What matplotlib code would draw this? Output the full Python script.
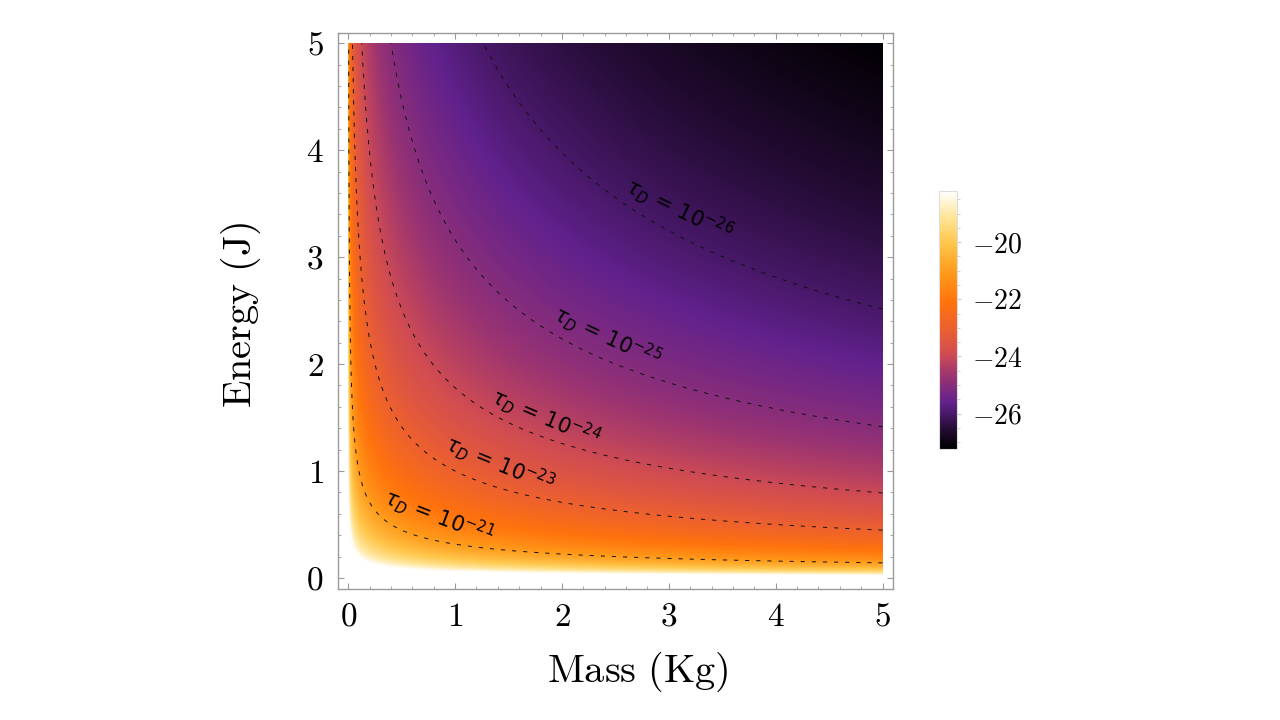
import numpy as np
import matplotlib
matplotlib.use("Agg")
import matplotlib.pyplot as plt
from matplotlib.colors import LinearSegmentedColormap, Normalize
from matplotlib.ticker import MultipleLocator, FixedLocator

# ---------------- data ----------------
mass_range = [0.0, 5.0]          # Kg
energy_range = [0.0, 5.0]        # J
# log10(tau_D) = prefactor - mass_power*log10(m) - energy_power*log10(E)
log10_tau_prefactor = -23.0
mass_power = 2.0
energy_power = 4.0
contour_levels = [-26, -25, -24, -23, -21]
contour_label_xy = [(3.10, 3.45), (2.42, 2.26), (1.85, 1.50), (1.42, 1.07), (0.85, 0.58)]
contour_label_rot = [-26, -25, -23, -22.5, -21]
axis_ticks = [0, 1, 2, 3, 4, 5]
colorbar_ticks = [-26, -24, -22, -20]
color_range = [-27.25, -18.2]

# ---------------- style ----------------
plt.rcParams["mathtext.fontset"] = "cm"
plt.rcParams["font.family"] = ["serif"]
plt.rcParams["font.serif"] = ["cmr10", "DejaVu Serif"]
plt.rcParams["axes.formatter.use_mathtext"] = True
plt.rcParams["lines.scale_dashes"] = False

sunset = LinearSegmentedColormap.from_list(
    "sunset",
    [
        (0.00, (0.00, 0.00, 0.00)),
        (0.08, (0.15, 0.05, 0.22)),
        (0.18, (0.38, 0.13, 0.55)),
        (0.28, (0.60, 0.20, 0.45)),
        (0.37, (0.82, 0.30, 0.32)),
        (0.47, (0.93, 0.38, 0.18)),
        (0.57, (1.00, 0.45, 0.05)),
        (0.68, (1.00, 0.60, 0.10)),
        (0.80, (1.00, 0.78, 0.30)),
        (0.90, (1.00, 0.90, 0.60)),
        (1.00, (1.00, 1.00, 1.00)),
    ],
)
sunset.set_over("white")
sunset.set_under("black")


def log_tau(m, e):
    return log10_tau_prefactor - mass_power * np.log10(m) - energy_power * np.log10(e)


fig = plt.figure(figsize=(12.8, 7.2), dpi=100)
ax = fig.add_axes([0.2637, 0.1824, 0.4342, 0.7724])

N = 900
dm = (mass_range[1] - mass_range[0]) / N
de = (energy_range[1] - energy_range[0]) / N
mc = mass_range[0] + (np.arange(N) + 0.5) * dm
ec = energy_range[0] + (np.arange(N) + 0.5) * de
M, E = np.meshgrid(mc, ec)
Z = log_tau(M, E)
norm = Normalize(vmin=color_range[0], vmax=color_range[1])
im = ax.imshow(Z, origin="lower", extent=[*mass_range, *energy_range], cmap=sunset,
               norm=norm, interpolation="bilinear", aspect="auto")

# contour lines
mm = np.linspace(0.0005, mass_range[1], 2500)
ee = np.linspace(0.0005, energy_range[1], 2500)
MM, EE = np.meshgrid(mm, ee)
cs = ax.contour(MM, EE, log_tau(MM, EE), levels=contour_levels, colors="#111111",
                linewidths=0.7, linestyles=[(0, (3.0, 5.0))])

for lev, (lx, ly), rot in zip(contour_levels, contour_label_xy, contour_label_rot):
    ax.text(lx, ly, r"$\tau_D\,=\,10^{%d}$" % lev, math_fontfamily="dejavusans",
            fontsize=15, rotation=rot, rotation_mode="anchor", ha="center", va="center",
            color="black")

ax.set_xlim(-0.1, 5.1)
ax.set_ylim(-0.1, 5.1)
ax.xaxis.set_major_locator(FixedLocator(axis_ticks))
ax.yaxis.set_major_locator(FixedLocator(axis_ticks))
ax.xaxis.set_minor_locator(MultipleLocator(0.2))
ax.yaxis.set_minor_locator(MultipleLocator(0.2))
frame_col = "#9a9a9a"
ax.tick_params(which="both", direction="in", top=True, right=True, color=frame_col,
               labelsize=24, pad=10)
ax.tick_params(which="major", length=4, width=0.8)
ax.tick_params(which="minor", length=2, width=0.6)
for sp in ax.spines.values():
    sp.set_color(frame_col)
    sp.set_linewidth(1.0)

ax.set_xlabel(r"$\mathrm{Mass\ (Kg)}$", fontsize=29)
ax.set_ylabel(r"$\mathrm{Energy\ (J)}$", fontsize=29)
ax.xaxis.set_label_coords(0.54, -0.11)
ax.yaxis.set_label_coords(-0.134, 0.492)

# colorbar
cax = fig.add_axes([0.7338, 0.376, 0.0136, 0.3592])
cb = fig.colorbar(im, cax=cax, extend="neither")
cb.set_ticks(colorbar_ticks)
cb.ax.yaxis.set_minor_locator(MultipleLocator(0.5))
cb.ax.tick_params(which="both", direction="out", color="#c8c8c8", labelsize=20, pad=8)
cb.ax.tick_params(which="major", length=3, width=0.8)
cb.ax.tick_params(which="minor", length=2, width=0.6)
cb.outline.set_edgecolor("#dddddd")
cb.outline.set_linewidth(0.8)

fig.savefig("out.png", dpi=100)
